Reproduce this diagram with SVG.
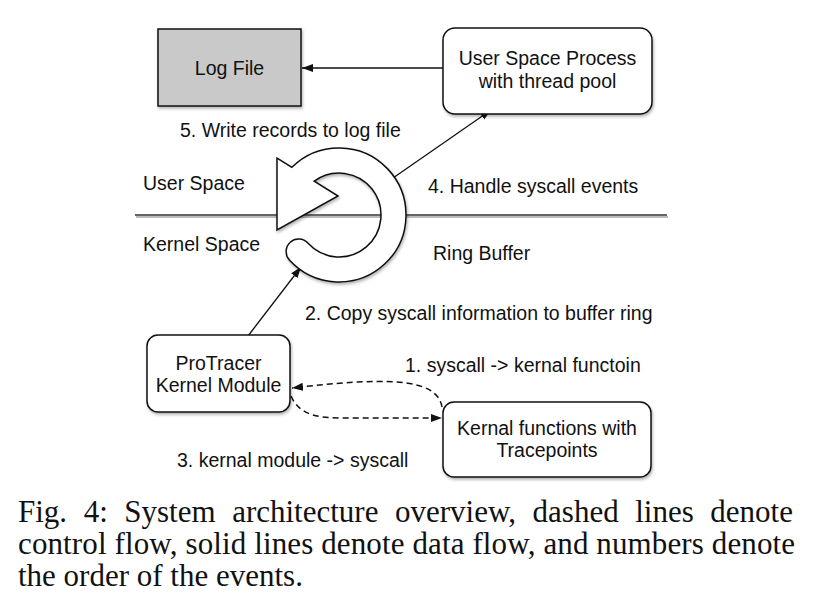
<svg xmlns="http://www.w3.org/2000/svg" width="822" height="598" viewBox="0 0 822 598">
<style>
.lbl{font-family:"Liberation Sans",Arial,sans-serif;font-size:19.5px;fill:#111}
.mid{text-anchor:middle}
.cap{font-family:"Liberation Serif","Times New Roman",serif;font-size:31px;fill:#111}
.box{fill:#fff;stroke:#111;stroke-width:1.5}
.solid{fill:none;stroke:#111;stroke-width:1.3}
.dash{fill:none;stroke:#111;stroke-width:1.5;stroke-dasharray:6 4}
</style>
<defs>
<filter id="sh" x="-10%" y="-10%" width="130%" height="140%">
<feDropShadow dx="1" dy="2" stdDeviation="1.5" flood-color="#000" flood-opacity="0.3"/>
</filter>
<marker id="ah" markerWidth="12" markerHeight="10" refX="11" refY="5" orient="auto" markerUnits="userSpaceOnUse">
<path d="M0,1 L11,5 L0,9 Z" fill="#111"/>
</marker>
</defs>
<rect width="822" height="598" fill="#fff"/>

<g id="divider">
<line x1="136" y1="217" x2="668" y2="217" stroke="#bbb" stroke-width="2"/>
<line x1="135" y1="215" x2="667" y2="215" stroke="#333" stroke-width="1.5"/>
<text class="lbl" x="143" y="190">User Space</text>
<text class="lbl" x="143" y="251">Kernel Space</text>
</g>

<g id="connectors">
<line class="solid" x1="443" y1="68" x2="302" y2="68" marker-end="url(#ah)"/>
<line class="solid" x1="393" y1="178" x2="491" y2="110" marker-end="url(#ah)"/>
<line class="solid" x1="248" y1="336" x2="301" y2="267" marker-end="url(#ah)"/>
<path class="dash" d="M442,407 C437,376 380,378 292,388" marker-end="url(#ah)"/>
<path class="dash" d="M291,396 C298,412 312,418 340,418 L442,418" marker-end="url(#ah)"/>
</g>

<g id="log-file">
<rect x="158" y="29" width="143" height="77" fill="#c9c9c9" stroke="#111" stroke-width="1.5" filter="url(#sh)"/>
<text class="lbl mid" x="229.5" y="75">Log File</text>
</g>

<g id="user-process">
<rect class="box" x="443" y="28" width="209" height="86" rx="12" filter="url(#sh)"/>
<text class="lbl mid" x="547.5" y="65">User Space Process</text>
<text class="lbl mid" x="547.5" y="88">with thread pool</text>
</g>

<g id="ring-buffer">
<path class="box" filter="url(#sh)" d="M291.9,167.3 L277,158 L277,230 L338,196 L314.2,181.1 A42,42 0 1 1 307.8,243.1 A12.5,12.5 0 0 0 289.2,259.8 A67,67 0 1 0 291.9,167.3 Z"/>
<text class="lbl" x="433" y="260">Ring Buffer</text>
</g>

<g id="protracer">
<rect class="box" x="147" y="335" width="143" height="77" rx="11" filter="url(#sh)"/>
<text class="lbl mid" x="218.5" y="370">ProTracer</text>
<text class="lbl mid" x="218.5" y="392">Kernel Module</text>
</g>

<g id="kernal-functions">
<rect class="box" x="443" y="402" width="208" height="75" rx="11" filter="url(#sh)"/>
<text class="lbl mid" x="547" y="435">Kernal functions with</text>
<text class="lbl mid" x="547" y="457">Tracepoints</text>
</g>

<g id="labels">
<text class="lbl" x="180" y="137">5. Write records to log file</text>
<text class="lbl" x="428" y="193">4. Handle syscall events</text>
<text class="lbl" x="305" y="320">2. Copy syscall information to buffer ring</text>
<text class="lbl" x="405" y="372">1. syscall -&gt; kernal functoin</text>
<text class="lbl" x="177" y="467">3. kernal module -&gt; syscall</text>
</g>

<g id="caption">
<text class="cap" x="18" y="522" word-spacing="8.8">Fig. 4: System architecture overview, dashed lines denote</text>
<text class="cap" x="18" y="554" textLength="777" lengthAdjust="spacing">control flow, solid lines denote data flow, and numbers denote</text>
<text class="cap" x="18" y="586">the order of the events.</text>
</g>
</svg>
